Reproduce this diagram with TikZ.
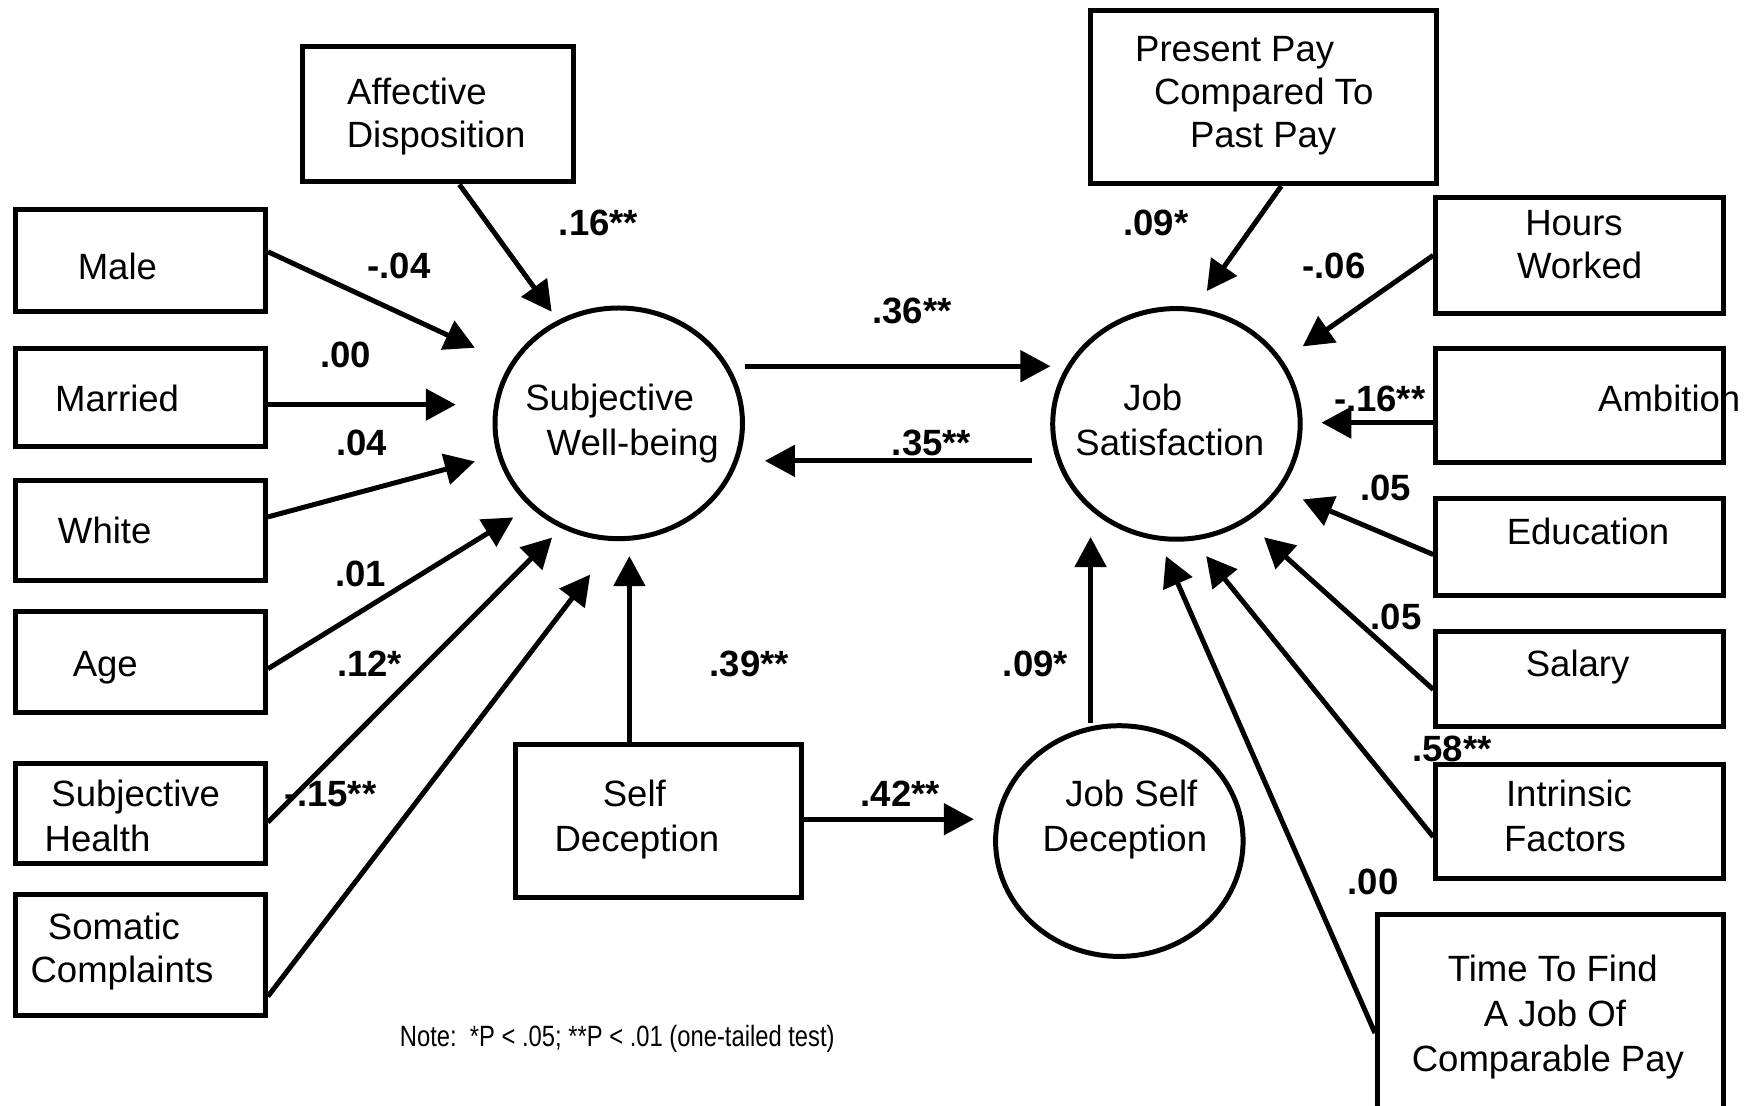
\documentclass[tikz,border=0pt]{standalone}
\usepackage{fontspec}
\setmainfont{Liberation Sans}
\newfontfamily\notefont{Liberation Sans}[FakeStretch=0.81]
\usepackage{tikz}
\usetikzlibrary{arrows.meta,shapes.geometric}

\begin{document}
\begin{tikzpicture}[x=0.0112cm, y=-0.0112cm,
		line width=1.42pt,
		every node/.style={inner sep=0pt, font=\fontsize{10.4}{12.5}\selectfont},
		box/.style={draw, rectangle},
		latent/.style={draw, ellipse, minimum width=2.475cm, minimum height=2.307cm},
		txt/.style={anchor=base},
		coef/.style={anchor=base, font=\fontsize{10.4}{12.5}\selectfont\bfseries},
		arr/.style={-{Triangle[length=3mm, width=3.1mm]}}]
	\useasboundingbox[fill=white] (0,0) rectangle (1568,987);

	% left column
	\node[box, minimum width=2.498cm, minimum height=1.014cm] (male) at (125.5,232.75) {};
	\node[box, minimum width=2.498cm, minimum height=0.986cm] (married) at (125.5,355) {};
	\node[box, minimum width=2.498cm, minimum height=0.997cm] (white) at (125.5,473.5) {};
	\node[box, minimum width=2.498cm, minimum height=1.004cm] (age) at (125.5,591.2) {};
	\node[box, minimum width=2.498cm, minimum height=0.998cm] (sh) at (125.5,726.2) {};
	\node[box, minimum width=2.498cm, minimum height=1.201cm] (som) at (125.5,852.7) {};
	\node[box, minimum width=2.705cm, minimum height=1.355cm] (aff) at (391,102) {};
	\node[box, minimum width=2.867cm, minimum height=1.534cm] (selfdec) at (588,733.1) {};

	% latent variables
	\node[latent] (swb) at (552.5,378) {};
	\node[latent] (js) at (1050.5,378.5) {};
	\node[latent] (jsd) at (999.5,751) {};

	% right column
	\node[box, minimum width=3.461cm, minimum height=1.736cm] (pp) at (1128.5,86.5) {};
	\node[box, minimum width=2.878cm, minimum height=1.165cm] (hours) at (1410.5,228) {};
	\node[box, minimum width=2.878cm, minimum height=1.142cm] (amb) at (1410.5,362) {};
	\node[box, minimum width=2.878cm, minimum height=0.963cm] (edu) at (1410.5,488.3) {};
	\node[box, minimum width=2.878cm, minimum height=0.952cm] (sal) at (1410.5,606.5) {};
	\node[box, minimum width=2.878cm, minimum height=1.131cm] (intr) at (1410.5,733.5) {};
	\node[box, minimum width=3.461cm, minimum height=1.994cm] (time) at (1384.5,906) {};

	% arrow tips
	\coordinate (male-tip) at (424,310.5);
	\coordinate (married-tip) at (407,361.3);
	\coordinate (white-tip) at (424,412);
	\coordinate (age-tip) at (458.4,462);
	\coordinate (sh-tip) at (493,480);
	\coordinate (som-tip) at (527,513);
	\coordinate (aff-tip) at (492.6,278.3);
	\coordinate (sd-tip) at (562,496.5);
	\coordinate (swb-out) at (665,327);
	\coordinate (js-in) at (938,327);
	\coordinate (js-out) at (921.5,411.5);
	\coordinate (swb-in) at (683,411.5);
	\coordinate (jsd-in) at (869.6,731.5);
	\coordinate (jsd-tip) at (973.8,479.5);
	\coordinate (pp-tip) at (1077.6,259.9);
	\coordinate (hours-tip) at (1163.3,309.3);
	\coordinate (amb-tip) at (1180,377.4);
	\coordinate (edu-tip) at (1163.2,445.9);
	\coordinate (sal-tip) at (1128.7,479.8);
	\coordinate (intr-tip) at (1077,496.5);
	\coordinate (time-tip) at (1041,496.5);

	\draw[arr] (male.4) -- (male-tip);
	\draw[arr] (married.east |- married-tip) -- (married-tip);
	\draw[arr] (white.6) -- (white-tip);
	\draw[arr] (age.357) -- (age-tip);
	\draw[arr] (sh.356) -- (sh-tip);
	\draw[arr] (som.342) -- (som-tip);
	\draw[arr] (aff.287) -- (aff-tip);
	\draw[arr] (selfdec.north -| sd-tip) -- (sd-tip);
	\draw[arr] (swb-out) -- (js-in);
	\draw[arr] (js-out) -- (swb-in);
	\draw[arr] (selfdec.east |- jsd-in) -- (jsd-in);
	\draw[arr] (jsd.north -| jsd-tip) -- (jsd-tip);
	\draw[arr] (pp.281) -- (pp-tip);
	\draw[arr] (hours.west) -- (hours-tip);
	\draw[arr] (amb.west |- amb-tip) -- (amb-tip);
	\draw[arr] (edu.183) -- (edu-tip);
	\draw[arr] (sal.184) -- (sal-tip);
	\draw[arr] (intr.186) -- (intr-tip);
	\draw[arr] (time.186) -- (time-tip);

	% box texts
	\node[txt] (t-male) at (104.8,249.7) {Male};
	\node[txt] (t-married) at (104.6,367.4) {Married};
	\node[txt] (t-white) at (93.5,485.3) {White};
	\node[txt] (t-age) at (94,603.8) {Age};
	\node[txt] (t-sh1) at (121.2,720.3) {Subjective};
	\node[txt] (t-sh2) at (87.1,760.5) {Health};
	\node[txt] (t-som1) at (101.8,838.7) {Somatic};
	\node[txt] (t-som2) at (108.9,877.2) {Complaints};
	\node[txt] (t-aff1) at (372.3,93.1) {Affective};
	\node[txt] (t-aff2) at (389.5,131.7) {Disposition};
	\node[txt] (t-swb1) at (544.3,366.7) {Subjective};
	\node[txt] (t-swb2) at (565,406.3) {Well-being};
	\node[txt] (t-sd1) at (566.4,720.3) {Self};
	\node[txt] (t-sd2) at (568.7,760.5) {Deception};
	\node[txt] (t-jsd1) at (1010.2,720.3) {Job Self};
	\node[txt] (t-jsd2) at (1004.4,760.5) {Deception};
	\node[txt] (t-js1) at (1029.3,366.7) {Job};
	\node[txt] (t-js2) at (1044.6,406.6) {Satisfaction};
	\node[txt] (t-pp1) at (1102.5,54.8) {Present Pay};
	\node[txt] (t-pp2) at (1128.4,93.1) {Compared To};
	\node[txt] (t-pp3) at (1127.9,131.4) {Past Pay};
	\node[txt] (t-hours1) at (1405.5,210.5) {Hours};
	\node[txt] (t-hours2) at (1410.5,248.7) {Worked};
	\node[txt] (t-amb) at (1490.5,367.6) {Ambition};
	\node[txt] (t-edu) at (1418,486) {Education};
	\node[txt] (t-sal) at (1408.7,603.8) {Salary};
	\node[txt] (t-intr1) at (1401,720.3) {Intrinsic};
	\node[txt] (t-intr2) at (1397.5,760.5) {Factors};
	\node[txt] (t-time1) at (1386.5,876.5) {Time To Find};
	\node[txt] (t-time2) at (1388.4,916.7) {A Job Of};
	\node[txt] (t-time3) at (1382.2,956.9) {Comparable Pay};

	% path coefficients
	\node[coef] (c-male) at (356.2,248.7) {-.04};
	\node[coef] (c-married) at (308.8,327.8) {.00};
	\node[coef] (c-white) at (322.9,406.6) {.04};
	\node[coef] (c-age) at (321.9,523.9) {.01};
	\node[coef] (c-sh) at (330.1,603.8) {.12*};
	\node[coef] (c-som) at (295.2,720.3) {-.15**};
	\node[coef] (c-aff) at (534.4,210.5) {.16**};
	\node[coef] (c-sd) at (669.1,603.8) {.39**};
	\node[coef] (c-swbjs) at (814.3,288.6) {.36**};
	\node[coef] (c-jsswb) at (831.8,406.6) {.35**};
	\node[coef] (c-sdjsd) at (804,720.3) {.42**};
	\node[coef] (c-jsd) at (924.6,603.8) {.09*};
	\node[coef] (c-pp) at (1032.2,210.5) {.09*};
	\node[coef] (c-hours) at (1191.3,248.7) {-.06};
	\node[coef] (c-amb) at (1232,367.6) {-.16**};
	\node[coef] (c-edu) at (1237.5,446.5) {.05};
	\node[coef] (c-sal) at (1246.6,562) {.05};
	\node[coef] (c-intr) at (1296.5,680) {.58**};
	\node[coef] (c-time) at (1226.2,799.1) {.00};

	\node[anchor=base, font=\notefont\fontsize{8.35}{10}\selectfont] (note) at (551.2,934) {Note:\ \ *P < .05; **P < .01 (one-tailed test)};
\end{tikzpicture}
\end{document}
